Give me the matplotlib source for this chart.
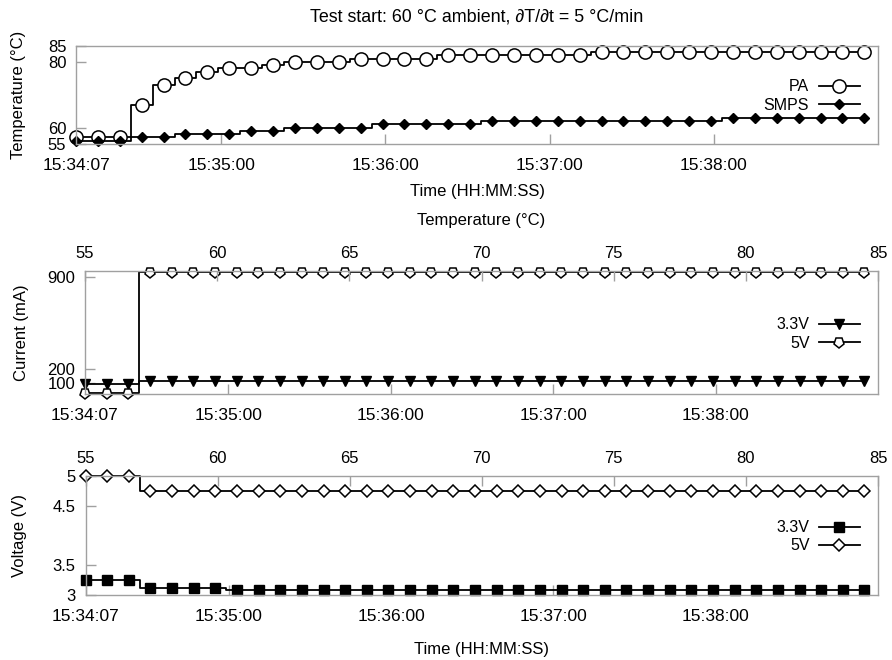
import pandas as pd
import matplotlib
matplotlib.use('Agg')
import matplotlib.pyplot as plt
import matplotlib.dates as mdates
from matplotlib.markers import MarkerStyle
from matplotlib.transforms import Affine2D

plt.rcParams['font.family'] = ['Liberation Sans', 'DejaVu Sans']
plt.rcParams['font.size'] = 12

# one reading every 8 s, starting at 15:34:07
times = pd.date_range('2020-01-01 15:34:07', periods=37, freq='8s')
t_end = pd.Timestamp('2020-01-01 15:39:00')
time_ticks = pd.to_datetime(['2020-01-01 15:34:07', '2020-01-01 15:35:00', '2020-01-01 15:36:00',
                             '2020-01-01 15:37:00', '2020-01-01 15:38:00'])

# temperatures (°C)
pa_temp = [57, 57, 57, 67, 73, 75, 77, 78, 78, 79, 80, 80, 80, 81, 81, 81, 81, 82, 82,
           82, 82, 82, 82, 82, 83, 83, 83, 83, 83, 83, 83, 83, 83, 83, 83, 83, 83]
smps_temp = [56, 56, 56, 57, 57, 58, 58, 58, 59, 59, 60, 60, 60, 60, 61, 61, 61, 61, 61,
             62, 62, 62, 62, 62, 62, 62, 62, 62, 62, 62, 63, 63, 63, 63, 63, 63, 63]

# currents (mA)
cur_3v3 = [90, 90, 90, 115, 115, 115, 115, 115, 115, 115, 115, 115, 115, 115, 115, 115, 115, 115, 115,
           115, 115, 115, 115, 115, 115, 115, 115, 115, 115, 115, 115, 115, 115, 115, 115, 115, 115]
cur_5v = [22, 22, 22, 935, 935, 935, 935, 935, 935, 935, 935, 935, 935, 935, 935, 935, 935, 935, 935,
          935, 935, 935, 935, 935, 935, 935, 935, 935, 935, 935, 935, 935, 935, 935, 935, 935, 935]

# voltages (V)
volt_3v3 = [3.26, 3.26, 3.26, 3.12, 3.12, 3.12, 3.12, 3.09, 3.09, 3.09, 3.09, 3.09, 3.09, 3.09, 3.09,
            3.09, 3.09, 3.09, 3.09, 3.09, 3.09, 3.09, 3.09, 3.09, 3.09, 3.09, 3.09, 3.09, 3.09, 3.09,
            3.09, 3.09, 3.09, 3.09, 3.09, 3.09, 3.09]
volt_5v = [5.0, 5.0, 5.0, 4.75, 4.75, 4.75, 4.75, 4.75, 4.75, 4.75, 4.75, 4.75, 4.75, 4.75, 4.75,
           4.75, 4.75, 4.75, 4.75, 4.75, 4.75, 4.75, 4.75, 4.75, 4.75, 4.75, 4.75, 4.75, 4.75, 4.75,
           4.75, 4.75, 4.75, 4.75, 4.75, 4.75, 4.75]

temp_ticks = [55, 60, 65, 70, 75, 80, 85]

GRAY = '#a0a0a0'
W, H = 892, 660

fig = plt.figure(figsize=(W / 100, H / 100), dpi=100)


def box(left, top, right, bottom):
    # pixel box -> figure fraction
    return [left / W, 1 - bottom / H, (right - left) / W, (bottom - top) / H]


def style_axes(ax):
    for s in ax.spines.values():
        s.set_color(GRAY)
        s.set_linewidth(1)
    ax.tick_params(direction='in', length=7, color=GRAY, width=1)
    ax.tick_params(axis='x', pad=10, labelsize=12.5)
    ax.tick_params(axis='y', pad=7)
    ax.set_xlim(times[0], t_end)
    ax.set_xticks(time_ticks)
    ax.xaxis.set_major_formatter(mdates.DateFormatter('%H:%M:%S'))


def add_temp_axis(ax):
    top = ax.twiny()
    top.set_xlim(55, 85)
    top.set_xticks(temp_ticks)
    for s in top.spines.values():
        s.set_visible(False)
    top.tick_params(direction='in', length=7, color=GRAY, width=1, pad=7)
    return top


def add_legend(ax, y):
    ax.legend(loc='center right', bbox_to_anchor=(0.977, y), frameon=False, markerfirst=False,
              borderpad=0, borderaxespad=0, handlelength=2.55, handletextpad=0.6,
              labelspacing=0.2, fontsize=11.5)


line_kw = dict(color='black', lw=1.3, drawstyle='steps-mid')

# Step 1: temperatures vs time
ax1 = fig.add_axes(box(76, 45.5, 878, 144))
style_axes(ax1)
ax1.plot(times, pa_temp, marker='o', ms=9.5, mfc='white', mec='black', mew=1.1, label='PA', **line_kw)
ax1.plot(times, smps_temp, marker='D', ms=5, mfc='black', mec='black', label='SMPS', **line_kw)
ax1.set_ylim(55, 85)
ax1.set_yticks([55, 60, 80, 85])
ax1.set_ylabel('Temperature (°C)')
ax1.yaxis.set_label_coords(-0.062, 0.5)
ax1.set_xlabel('Time (HH:MM:SS)', labelpad=8)
ax1.set_title('Test start: 60 °C ambient, ∂T/∂t = 5 °C/min', pad=17, fontsize=12.9)
add_legend(ax1, 0.487)

# Step 2: currents
ax2 = fig.add_axes(box(85, 271, 878, 394))
style_axes(ax2)
pent = MarkerStyle('p', transform=Affine2D().rotate_deg(180))
ax2.plot(times, cur_3v3, marker='v', ms=6.5, mfc='black', mec='black', label='3.3V', **line_kw)
ax2.plot(times, cur_5v, marker=pent, ms=8, mfc='white', mec='black', mew=1.1, label='5V', **line_kw)
ax2.set_ylim(15, 943)
ax2.set_yticks([100, 200, 900])
ax2.set_ylabel('Current (mA)')
ax2.yaxis.set_label_coords(-0.070, 0.5)
top2 = add_temp_axis(ax2)
top2.set_xlabel('Temperature (°C)', labelpad=15)
add_legend(ax2, 0.488)

# Step 3: voltages
ax3 = fig.add_axes(box(85.5, 476, 878, 595))
style_axes(ax3)
ax3.plot(times, volt_3v3, marker='s', ms=7, mfc='black', mec='black', label='3.3V', **line_kw)
ax3.plot(times, volt_5v, marker='D', ms=6.6, mfc='white', mec='black', mew=1.1, label='5V', **line_kw)
ax3.set_ylim(3, 5)
ax3.set_yticks([3, 3.5, 4.5, 5])
ax3.set_yticklabels(['3', '3.5', '4.5', '5'])
ax3.set_ylabel('Voltage (V)')
ax3.yaxis.set_label_coords(-0.074, 0.5)
ax3.set_xlabel('Time (HH:MM:SS)', labelpad=13)
add_temp_axis(ax3)
add_legend(ax3, 0.49)

for ax in (ax1, ax2, ax3):
    for ln in ax.get_lines():
        ln.set_clip_on(False)

plt.savefig('out.png', dpi=100)
